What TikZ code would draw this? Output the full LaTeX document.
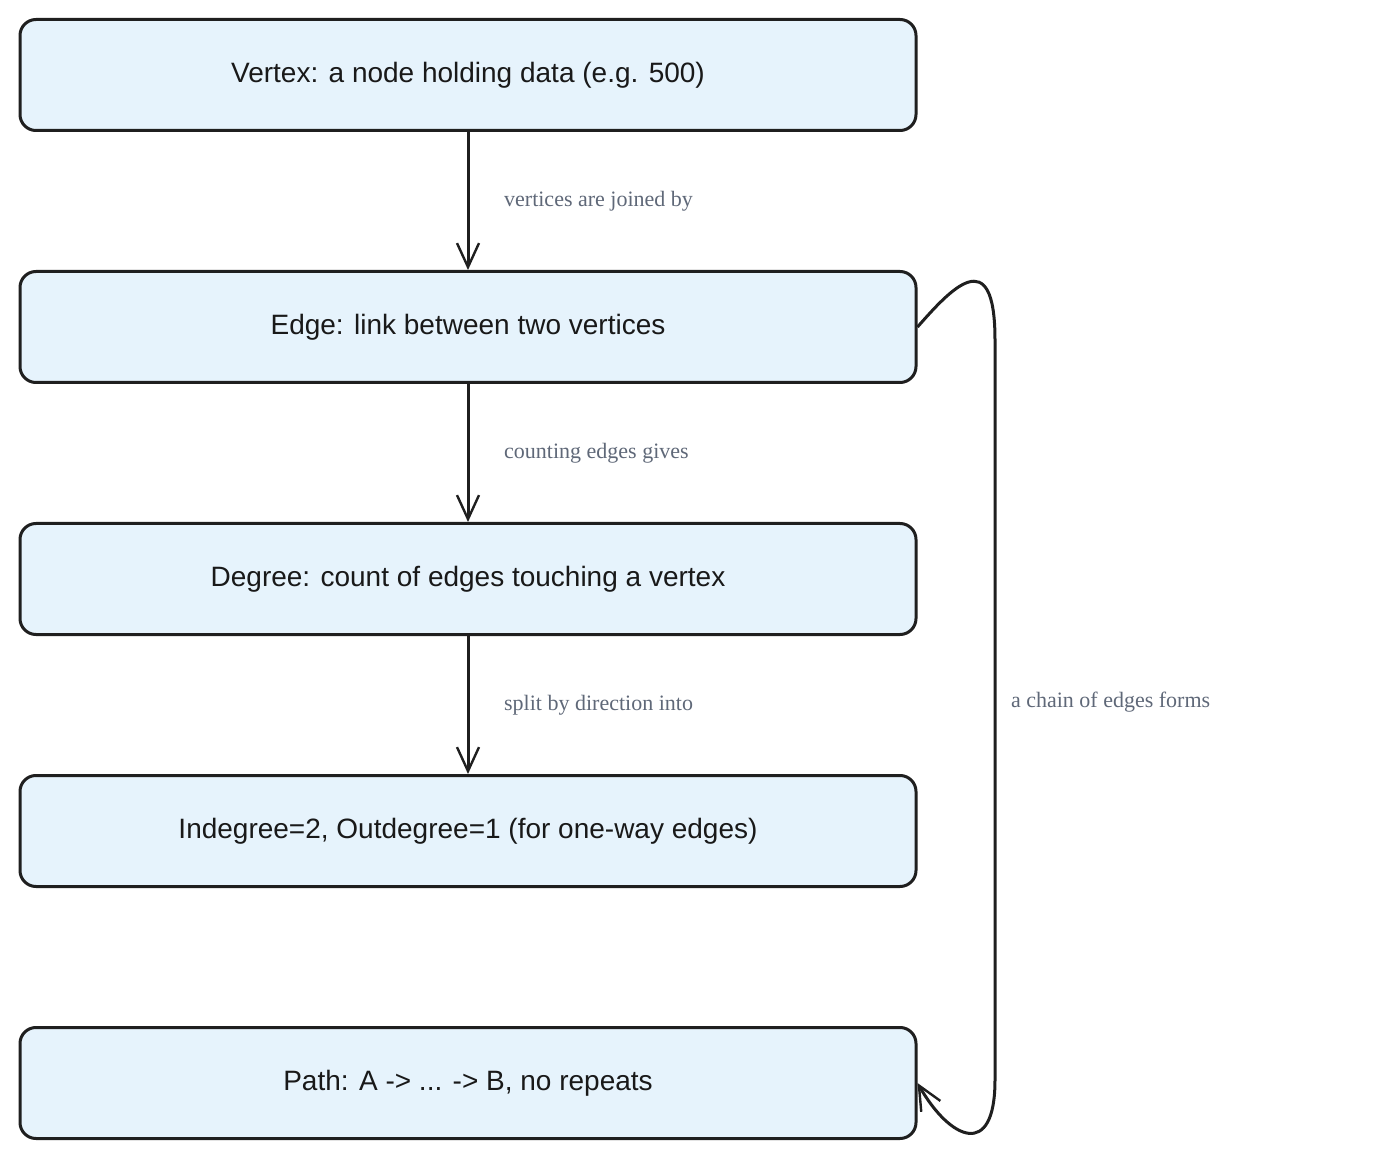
\documentclass[tikz,border=0pt]{standalone}
\usepackage{fontspec}
\setmainfont{Liberation Serif}
\setsansfont{Liberation Sans}
\usetikzlibrary{arrows.meta}
\definecolor{boxfill}{HTML}{E6F3FC}
\definecolor{lbl}{HTML}{5F6878}
\begin{document}
\begin{tikzpicture}[x=0.5pt,y=-0.5pt,
  box/.style={draw=black!88,line width=1.5pt,fill=boxfill,rounded corners=8pt,minimum width=448pt,minimum height=55.5pt,font=\sffamily\fontsize{14}{16}\selectfont,text=black!90},
  arr/.style={draw=black!88,line width=1.5pt,-{Straight Barb[length=12pt,width=11pt,line width=1.2pt]}},
  lab/.style={font=\fontsize{11}{13}\selectfont,text=lbl,anchor=west}]
\useasboundingbox (0,0) rectangle (1382,1160);
\node[box] (v) at (468,75) {Vertex: a node holding data (e.g. 500)};
\node[box] (e) at (468,327) {Edge: link between two vertices};
\node[box] (d) at (468,579) {Degree: count of edges touching a vertex};
\node[box] (i) at (468,831) {Indegree=2, Outdegree=1 (for one-way edges)};
\node[box] (p) at (468,1083) {Path: A -> ... -> B, no repeats};
\draw[arr] (v) -- (e) node[lab,pos=0.5,xshift=14pt] {vertices are joined by};
\draw[arr] (e) -- (d) node[lab,pos=0.5,xshift=14pt] {counting edges gives};
\draw[arr] (d) -- (i) node[lab,pos=0.5,xshift=14pt] {split by direction into};
\draw[arr] (e.east) .. controls (950,290) and (995,240) .. (995,340) -- (995,1080) .. controls (995,1160) and (950,1140) .. (p.east);
\node[lab] (c) at (1004,702) {a chain of edges forms};
\end{tikzpicture}
\end{document}
